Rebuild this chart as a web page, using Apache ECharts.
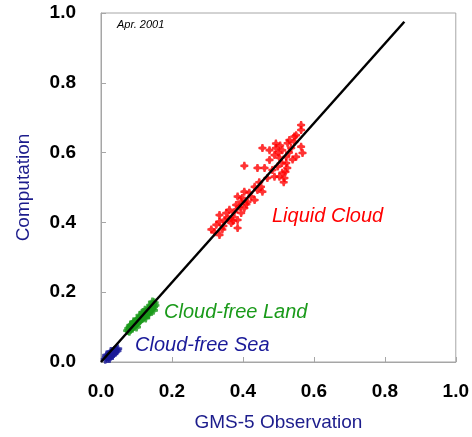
<!DOCTYPE html>
<html>
<head>
<meta charset="utf-8">
<script src="https://cdn.jsdelivr.net/npm/echarts@6/dist/echarts.min.js"></script>
<style>
	* {
		margin: 0;
		padding: 0;
	}

	#chart {
		width: 472px;
		height: 437px;
		background: #fff;
	}
</style>
</head>
<body>
<div id="chart"></div>
<script>
	// axis ticks
	var tickValues = [0, 0.2, 0.4, 0.6, 0.8, 1.0];

	// Liquid Cloud (GMS-5 observation, computation)
	var liquidCloud = [
		[0.311, 0.380], [0.320, 0.372], [0.334, 0.364], [0.325, 0.393], [0.334, 0.402],
		[0.348, 0.407], [0.353, 0.427], [0.362, 0.436], [0.371, 0.416], [0.385, 0.407],
		[0.385, 0.384], [0.381, 0.450], [0.385, 0.474], [0.404, 0.488], [0.395, 0.459],
		[0.413, 0.459], [0.404, 0.441], [0.423, 0.474], [0.433, 0.464], [0.441, 0.493],
		[0.455, 0.488], [0.433, 0.502], [0.334, 0.421], [0.395, 0.427], [0.367, 0.398],
		[0.345, 0.390], [0.358, 0.412], [0.376, 0.430], [0.390, 0.445], [0.418, 0.485],
		[0.446, 0.515], [0.564, 0.679], [0.564, 0.665], [0.550, 0.650], [0.531, 0.636],
		[0.564, 0.617], [0.568, 0.599], [0.493, 0.626], [0.493, 0.613], [0.475, 0.607],
		[0.455, 0.613], [0.511, 0.607], [0.489, 0.593], [0.503, 0.585], [0.522, 0.588],
		[0.550, 0.588], [0.522, 0.570], [0.525, 0.556], [0.511, 0.542], [0.517, 0.527],
		[0.503, 0.531], [0.475, 0.579], [0.441, 0.556], [0.461, 0.556], [0.483, 0.550],
		[0.489, 0.531], [0.469, 0.527], [0.451, 0.502], [0.545, 0.631], [0.536, 0.613],
		[0.404, 0.562], [0.545, 0.646], [0.526, 0.627], [0.500, 0.600], [0.510, 0.570],
		[0.530, 0.600], [0.515, 0.515], [0.498, 0.560], [0.540, 0.580], [0.342, 0.380],
		[0.372, 0.405], [0.398, 0.470], [0.410, 0.452], [0.520, 0.545], [0.505, 0.620]
	];

	// Cloud-free Land
	var cloudFreeLand = [
		[0.075, 0.090], [0.078, 0.096], [0.080, 0.088], [0.082, 0.101], [0.084, 0.094],
		[0.086, 0.104], [0.088, 0.098], [0.090, 0.108], [0.092, 0.102], [0.094, 0.113],
		[0.096, 0.106], [0.098, 0.116], [0.100, 0.110], [0.102, 0.121], [0.104, 0.114],
		[0.106, 0.123], [0.108, 0.117], [0.110, 0.127], [0.112, 0.121], [0.114, 0.131],
		[0.116, 0.125], [0.118, 0.135], [0.120, 0.128], [0.122, 0.139], [0.124, 0.132],
		[0.126, 0.142], [0.128, 0.136], [0.130, 0.146], [0.132, 0.140], [0.134, 0.151],
		[0.136, 0.144], [0.138, 0.155], [0.140, 0.148], [0.142, 0.160], [0.144, 0.152],
		[0.146, 0.165], [0.148, 0.158], [0.150, 0.170], [0.145, 0.172], [0.140, 0.163],
		[0.152, 0.162], [0.118, 0.142], [0.110, 0.134], [0.126, 0.126], [0.092, 0.115],
		[0.100, 0.100], [0.134, 0.136], [0.084, 0.106], [0.148, 0.148], [0.124, 0.148]
	];

	// Cloud-free Sea
	var cloudFreeSea = [
		[0.012, 0.008], [0.015, 0.014], [0.018, 0.010], [0.020, 0.018], [0.022, 0.014],
		[0.025, 0.022], [0.027, 0.017], [0.030, 0.026], [0.032, 0.020], [0.034, 0.030],
		[0.036, 0.024], [0.038, 0.033], [0.040, 0.028], [0.042, 0.036], [0.045, 0.032],
		[0.047, 0.038], [0.016, 0.020], [0.028, 0.030], [0.024, 0.010]
	];

	// regression line ends
	var fitLine = [[0, 0], [0.855, 0.975]];

	var marker = 'path://M3,0H5L5.6,2.4L8,3V5L5.6,5.6L5,8H3L2.4,5.6L0,5V3L2.4,2.4Z';
	var navy = '#1c1c8c';

	var chart = echarts.init(document.getElementById('chart'));
	chart.setOption({
		animation: false,
		grid: {
			left: 101,
			right: 15,
			top: 13,
			bottom: 75,
			show: true,
			borderColor: '#a6a6a6',
			borderWidth: 1
		},
		xAxis: {
			type: 'value',
			min: tickValues[0],
			max: tickValues[tickValues.length - 1],
			interval: 0.2,
			name: 'GMS-5 Observation',
			nameLocation: 'middle',
			nameGap: 51,
			nameTextStyle: {
				color: navy,
				fontSize: 19,
				fontFamily: 'Liberation Sans, Arial'
			},
			axisLine: { lineStyle: { color: '#a6a6a6' } },
			axisTick: { inside: true, length: 5, lineStyle: { color: '#a6a6a6' } },
			splitLine: { show: false },
			axisLabel: {
				margin: 20,
				color: '#000',
				fontSize: 19,
				fontWeight: 'bold',
				fontFamily: 'Liberation Sans, Arial',
				formatter: function(v) { return v.toFixed(1); }
			}
		},
		yAxis: {
			type: 'value',
			min: tickValues[0],
			max: tickValues[tickValues.length - 1],
			interval: 0.2,
			name: 'Computation',
			nameLocation: 'middle',
			nameGap: 68,
			nameTextStyle: {
				color: navy,
				fontSize: 19,
				fontFamily: 'Liberation Sans, Arial'
			},
			axisLine: { lineStyle: { color: '#a6a6a6' } },
			axisTick: { inside: true, length: 5, lineStyle: { color: '#a6a6a6' } },
			splitLine: { show: false },
			axisLabel: {
				margin: 25,
				color: '#000',
				fontSize: 19,
				fontWeight: 'bold',
				fontFamily: 'Liberation Sans, Arial',
				formatter: function(v) { return v.toFixed(1); }
			}
		},
		graphic: [
			{ type: 'text', left: 117, top: 19, style: { text: 'Apr. 2001', fontSize: 11, fontStyle: 'italic', fontFamily: 'Liberation Sans, Arial', fill: '#000' } },
			{ type: 'text', left: 272, top: 206, style: { text: 'Liquid Cloud', fontSize: 20, fontStyle: 'italic', fontFamily: 'Liberation Sans, Arial', fill: '#ff0000' } },
			{ type: 'text', left: 164, top: 302, style: { text: 'Cloud-free Land', fontSize: 20, fontStyle: 'italic', fontFamily: 'Liberation Sans, Arial', fill: '#1a9a1a' } },
			{ type: 'text', left: 135, top: 335, style: { text: 'Cloud-free Sea', fontSize: 20, fontStyle: 'italic', fontFamily: 'Liberation Sans, Arial', fill: '#1a1a99' } }
		],
		series: [
			{
				name: 'Cloud-free Sea',
				type: 'scatter',
				symbol: marker,
				symbolSize: 9,
				itemStyle: { color: '#1a1a99' },
				data: cloudFreeSea
			},
			{
				name: 'Cloud-free Land',
				type: 'scatter',
				symbol: marker,
				symbolSize: 9,
				itemStyle: { color: '#1a9a1a' },
				data: cloudFreeLand
			},
			{
				name: 'Liquid Cloud',
				type: 'scatter',
				symbol: marker,
				symbolSize: 8,
				itemStyle: { color: '#ff0000' },
				data: liquidCloud
			},
			{
				name: 'fit',
				type: 'line',
				symbol: 'none',
				lineStyle: { color: '#000', width: 2.5 },
				data: fitLine,
				z: 5
			}
		]
	});
</script>
</body>
</html>
